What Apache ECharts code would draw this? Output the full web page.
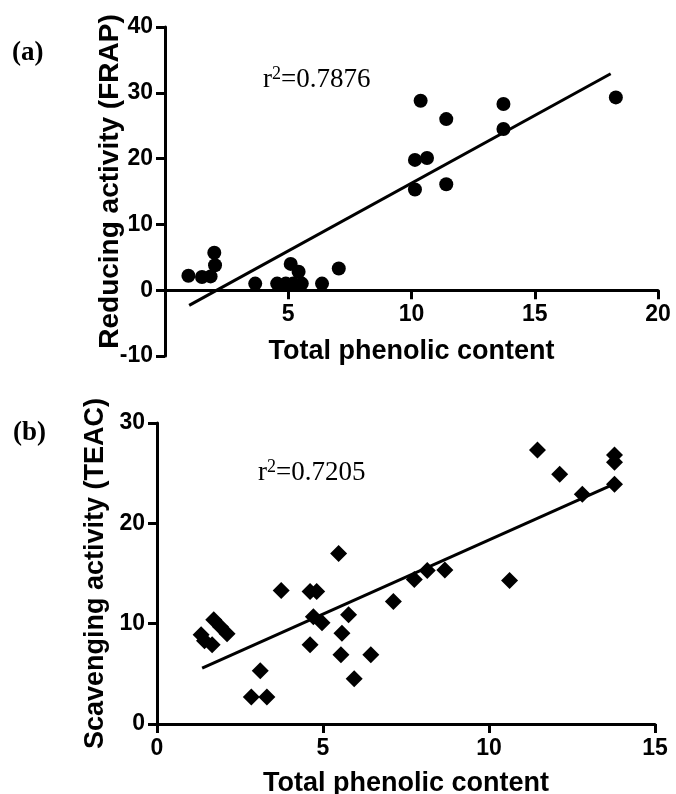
<!DOCTYPE html>
<html>
<head>
<meta charset="utf-8">
<script src="https://cdn.jsdelivr.net/npm/echarts@6/dist/echarts.min.js"></script>
<style>
  html, body { margin: 0; padding: 0; background: #fff; }
  #chart { width: 676px; height: 794px; }
</style>
</head>
<body>
<div id="chart"></div>
<script>
// panel (a): total phenolic content vs FRAP
var frapPoints = [
  [0.95, 2.2], [1.5, 2.0], [1.85, 2.1], [2.0, 5.7], [2.03, 3.8],
  [3.66, 1.0], [4.55, 1.0], [4.9, 1.0], [5.2, 1.0], [5.1, 4.0],
  [5.42, 2.8], [5.55, 1.0], [6.37, 1.0], [7.05, 3.3],
  [10.14, 19.8], [10.14, 15.3], [10.37, 28.8], [10.63, 20.1],
  [11.41, 26.0], [11.41, 16.1], [13.73, 28.3], [13.73, 24.5], [18.29, 29.3]
];
var frapFit = [[0.98, -2.3], [18.08, 32.9]];

// panel (b): total phenolic content vs TEAC
var teacPoints = [
  [1.33, 8.9], [1.43, 8.3], [1.66, 7.9], [1.71, 10.4], [1.91, 9.7], [2.11, 9.0],
  [2.84, 2.7], [3.11, 5.3], [3.31, 2.7], [3.74, 13.3],
  [4.61, 13.2], [4.81, 13.2], [4.61, 7.9], [4.71, 10.7], [4.97, 10.1],
  [5.47, 17.0], [5.57, 9.05], [5.77, 10.9], [5.54, 6.9], [5.94, 4.5], [6.44, 6.9],
  [7.12, 12.2], [7.75, 14.4], [8.14, 15.3], [8.67, 15.35], [10.62, 14.3],
  [11.46, 27.3], [12.13, 24.9], [12.81, 22.9], [13.78, 26.8], [13.78, 26.1], [13.78, 23.9]
];
var teacFit = [[1.36, 5.57], [13.83, 24.0]];

var xTitle = 'Total phenolic content';
var yTitles = ['Reducing activity (FRAP)', 'Scavenging activity (TEAC)'];
var r2Values = ['=0.7876', '=0.7205'];
var panelLabels = ['(a)', '(b)'];

var sans = "'Liberation Sans', Arial, sans-serif";
var serif = "'Liberation Serif', 'Times New Roman', serif";
var ink = '#000';

function axisBase(extra) {
  var o = {
    type: 'value',
    nameLocation: 'middle',
    nameMoveOverlap: false,
    nameTextStyle: { color: ink, fontSize: 27, fontWeight: 'bold', fontFamily: sans },
    axisLine: { show: true, onZero: false, lineStyle: { color: ink, width: 3 } },
    axisTick: { show: true, inside: false, length: 9, lineStyle: { color: ink, width: 3 } },
    axisLabel: { color: ink, fontSize: 23, fontWeight: 'bold', fontFamily: sans, margin: 12 },
    splitLine: { show: false }
  };
  for (var k in extra) o[k] = extra[k];
  return o;
}

function r2Text(x, y, value) {
  return {
    type: 'text', x: x, y: y,
    style: {
      text: '{m|r}{s|2}{m|' + value + '}',
      align: 'left', verticalAlign: 'middle',
      rich: {
        m: { fill: ink, fontSize: 27, fontFamily: serif, lineHeight: 30, verticalAlign: 'middle' },
        s: { fill: ink, fontSize: 18, fontFamily: serif, lineHeight: 30, verticalAlign: 'top' }
      }
    }
  };
}

var chart = echarts.init(document.getElementById('chart'), null, { renderer: 'canvas' });
chart.setOption({
  animation: false,
  backgroundColor: '#fff',
  grid: [
    { left: 165, top: 27, width: 493, height: 329, containLabel: false, outerBoundsMode: 'none' },
    { left: 157, top: 423, width: 498, height: 301, containLabel: false, outerBoundsMode: 'none' }
  ],
  xAxis: [
    // sits on y = 0 : 10/50 of the 329px grid above the bottom
    axisBase({ gridIndex: 0, min: 0, max: 20, interval: 5, name: xTitle, nameGap: 48,
      position: 'bottom', offset: -65.8,
      axisLabel: { color: ink, fontSize: 23, fontWeight: 'bold', fontFamily: sans, margin: 13, showMinLabel: false } }),
    axisBase({ gridIndex: 1, min: 0, max: 15, interval: 5, name: xTitle, nameGap: 46,
      axisLabel: { color: ink, fontSize: 23, fontWeight: 'bold', fontFamily: sans, margin: 13 } })
  ],
  yAxis: [
    axisBase({ gridIndex: 0, min: -10, max: 40, interval: 10, name: yTitles[0], nameGap: 41,
      nameTextStyle: { color: ink, fontSize: 28, fontWeight: 'bold', fontFamily: sans, padding: [0, 0, 0, 20] } }),
    axisBase({ gridIndex: 1, min: 0, max: 30, interval: 10, name: yTitles[1], nameGap: 48 })
  ],
  series: [
    {
      type: 'scatter', xAxisIndex: 0, yAxisIndex: 0, data: frapPoints,
      symbol: 'circle', symbolSize: 14, itemStyle: { color: ink, opacity: 1 }
    },
    {
      type: 'line', xAxisIndex: 0, yAxisIndex: 0, data: frapFit,
      symbol: 'none', lineStyle: { color: ink, width: 3 }
    },
    {
      type: 'scatter', xAxisIndex: 1, yAxisIndex: 1, data: teacPoints,
      symbol: 'diamond', symbolSize: 17, itemStyle: { color: ink, opacity: 1 }
    },
    {
      type: 'line', xAxisIndex: 1, yAxisIndex: 1, data: teacFit,
      symbol: 'none', lineStyle: { color: ink, width: 3 }
    }
  ],
  graphic: [
    { type: 'text', x: 12, y: 53, style: { text: panelLabels[0], fill: ink, fontSize: 27, fontWeight: 'bold', fontFamily: serif, align: 'left', verticalAlign: 'middle' } },
    { type: 'text', x: 13, y: 433, style: { text: panelLabels[1], fill: ink, fontSize: 27, fontWeight: 'bold', fontFamily: serif, align: 'left', verticalAlign: 'middle' } },
    r2Text(263, 80, r2Values[0]),
    r2Text(258, 473, r2Values[1])
  ]
});
</script>
</body>
</html>
